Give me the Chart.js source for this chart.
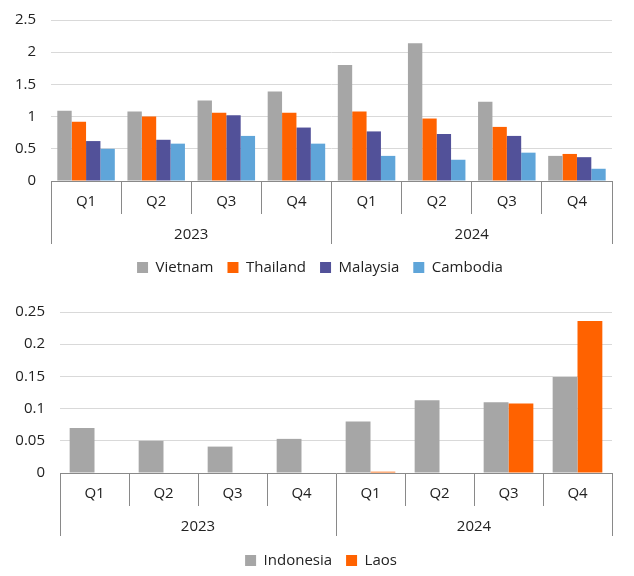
<!DOCTYPE html>
<html>
<head>
<meta charset="utf-8">
<script src="https://cdn.jsdelivr.net/npm/chart.js@4.4.0/dist/chart.umd.min.js"></script>
<style>
  body { margin: 0; background: #fff; overflow: hidden; }
  .box { position: relative; width: 634px; }
  #top { height: 290px; }
  #bottom { height: 286px; }
</style>
</head>
<body>
<div class="box" id="top"><canvas id="chartTop"></canvas></div>
<div class="box" id="bottom"><canvas id="chartBottom"></canvas></div>
<script>
// quarters and years for the two-level axis
var quarters = ['Q1', 'Q2', 'Q3', 'Q4', 'Q1', 'Q2', 'Q3', 'Q4'];
var years = ['2023', '2024'];

// top chart series
var vietnam  = [1.09, 1.08, 1.25, 1.39, 1.80, 2.14, 1.23, 0.39];
var thailand = [0.92, 1.00, 1.06, 1.06, 1.08, 0.97, 0.84, 0.42];
var malaysia = [0.62, 0.64, 1.02, 0.83, 0.77, 0.73, 0.70, 0.37];
var cambodia = [0.50, 0.58, 0.70, 0.58, 0.39, 0.33, 0.44, 0.19];

// bottom chart series
var indonesia = [0.070, 0.050, 0.041, 0.053, 0.080, 0.113, 0.110, 0.149];
var laos      = [null, null, null, null, 0.002, 0, 0.108, 0.236];

var FONT = "'Open Sans', sans-serif";
var AXIS_GREY = '#898989';

function fmt(v) { return String(Number(Number(v).toFixed(2))); }

function makeChart(id, datasets, o) {
  var ctx = document.getElementById(id).getContext('2d');
  return new Chart(ctx, {
    type: 'bar',
    data: {
      labels: quarters,
      datasets: datasets.map(function (d) {
        return {
          label: d.label,
          data: d.data,
          backgroundColor: d.color,
          borderWidth: 0,
          barPercentage: 1,
          categoryPercentage: o.catPct,
          xAxisID: 'x',
          yAxisID: 'y'
        };
      })
    },
    // the legend is centred on the whole picture, not on the plot
    plugins: [{
      id: 'legendShift',
      afterLayout: function (chart) {
        chart.legend.left += o.legendShift;
        chart.legend.right += o.legendShift;
      }
    }],
    options: {
      responsive: true,
      maintainAspectRatio: false,
      animation: false,
      layout: { padding: { top: o.padTop, right: 22, left: 0, bottom: o.padBottom } },
      plugins: {
        tooltip: { enabled: false },
        legend: {
          position: 'bottom',
          labels: {
            color: '#222',
            font: { family: FONT, size: 15 },
            boxWidth: 11,
            boxHeight: 11,
            padding: 14
          }
        }
      },
      scales: {
        x: {
          type: 'category',
          offset: true,
          grid: { offset: true, drawOnChartArea: false, tickLength: 33, color: AXIS_GREY, lineWidth: 1 },
          border: { display: true, color: AXIS_GREY },
          ticks: { color: '#222', font: { family: FONT, size: 15 }, padding: -21, maxRotation: 0, autoSkip: false },
          afterFit: function (s) { s.height = 33; }
        },
        x2: {
          type: 'category',
          position: 'bottom',
          labels: years,
          offset: true,
          grid: { offset: true, drawOnChartArea: false, tickLength: 30, color: AXIS_GREY, lineWidth: 1 },
          border: { display: false },
          ticks: { color: '#222', font: { family: FONT, size: 15 }, padding: -18, maxRotation: 0 },
          afterFit: function (s) { s.height = o.x2H; }
        },
        y: {
          min: 0,
          max: o.yMax,
          ticks: {
            stepSize: o.yStep,
            color: '#222',
            font: { family: FONT, size: 15, lineHeight: 0.5 },
            padding: 15,
            callback: fmt
          },
          grid: { color: '#D9D9D9', drawTicks: false, lineWidth: 1 },
          border: { display: false },
          afterFit: function (s) { s.width = o.yWidth; }
        }
      }
    }
  });
}

makeChart('chartTop', [
  { label: 'Vietnam', data: vietnam, color: '#A6A6A6' },
  { label: 'Thailand', data: thailand, color: '#FF6200' },
  { label: 'Malaysia', data: malaysia, color: '#525199' },
  { label: 'Cambodia', data: cambodia, color: '#5FA5D9' }
], { yMax: 2.5, yStep: 0.5, yWidth: 51, padTop: 20, padBottom: 5, catPct: 0.82, x2H: 32, legendShift: 14 });

makeChart('chartBottom', [
  { label: 'Indonesia', data: indonesia, color: '#A6A6A6' },
  { label: 'Laos', data: laos, color: '#FF6200' }
], { yMax: 0.25, yStep: 0.05, yWidth: 60, padTop: 22, padBottom: -2, catPct: 0.72, x2H: 33, legendShift: 15 });
</script>
</body>
</html>
